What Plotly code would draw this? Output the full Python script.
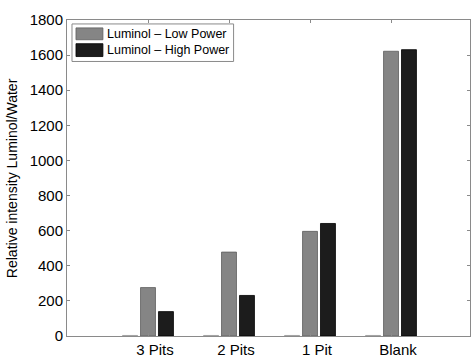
import plotly.graph_objects as go

categories = ["3 Pits", "2 Pits", "1 Pit", "Blank"]
water = [3, 3, 3, 3]
low_power = [276, 478, 596, 1622]
high_power = [139, 231, 641, 1631]
series_names = ["Water", "Luminol \u2013 Low Power", "Luminol \u2013 High Power"]
yticks = list(range(0, 1801, 200))

xpos = list(range(1, len(categories) + 1))

W, H = 471, 358
ML, MR, MT, MB = 67, 0, 20, 18
PW, PH = W - ML - MR, H - MT - MB

def px(x):
    return (x - ML) / PW

def py(y):
    return (H - MB - y) / PH

fig = go.Figure()
fig.add_trace(go.Bar(x=xpos, y=water, name=series_names[0], marker=dict(color="#c8c8c8", line=dict(color="#9a9a9a", width=0.8)), showlegend=False))
fig.add_trace(go.Bar(x=xpos, y=low_power, name=series_names[1], marker=dict(color="#858585", line=dict(color="#5e5e5e", width=0.8)), showlegend=False))
fig.add_trace(go.Bar(x=xpos, y=high_power, name=series_names[2], marker=dict(color="#1c1c1c", line=dict(color="#000000", width=0.8)), showlegend=False))

font = "Liberation Sans, Arial, Helvetica, sans-serif"

shapes = [
    dict(type="rect", xref="paper", yref="paper", x0=px(72), x1=px(234), y0=py(24), y1=py(62),
         line=dict(color="#8a8a8a", width=1), fillcolor="white", layer="above"),
    dict(type="rect", xref="paper", yref="paper", x0=px(76), x1=px(103), y0=py(28), y1=py(40),
         line=dict(color="#5e5e5e", width=0.8), fillcolor="#858585", layer="above"),
    dict(type="rect", xref="paper", yref="paper", x0=px(76), x1=px(103), y0=py(44), y1=py(57),
         line=dict(color="#000000", width=0.8), fillcolor="#1c1c1c", layer="above"),
]
annotations = [
    dict(xref="paper", yref="paper", x=px(105), y=py(34), text=series_names[1], showarrow=False,
         xanchor="left", yanchor="middle", font=dict(family=font, size=12.5, color="black")),
    dict(xref="paper", yref="paper", x=px(105), y=py(50.5), text=series_names[2], showarrow=False,
         xanchor="left", yanchor="middle", font=dict(family=font, size=12.5, color="black")),
    dict(xref="paper", yref="paper", x=px(12), y=0.5, text="Relative intensity Luminol/Water", showarrow=False,
         textangle=-90, xanchor="center", yanchor="middle", font=dict(family=font, size=14, color="black")),
]

fig.update_layout(
    width=W, height=H,
    margin=dict(l=ML, r=MR, t=MT, b=MB, pad=0),
    paper_bgcolor="white", plot_bgcolor="white",
    barmode="group", bargap=0.335, bargroupgap=0.167,
    font=dict(family=font, size=15, color="black"),
    shapes=shapes, annotations=annotations,
    showlegend=False,
)
fig.update_xaxes(
    range=[0, 4.975], tickvals=xpos, ticktext=categories,
    showline=True, linecolor="#8a8a8a", linewidth=1, mirror="ticks",
    ticks="inside", ticklen=3, tickcolor="#8a8a8a", showgrid=False, zeroline=False,
    tickfont=dict(family=font, size=15, color="black"), ticklabelshift=7,
)
fig.update_yaxes(
    range=[0, 1800], tickvals=yticks,
    showline=True, linecolor="#8a8a8a", linewidth=1, mirror="ticks",
    ticks="inside", ticklen=3, tickcolor="#8a8a8a", showgrid=False, zeroline=False,
    tickfont=dict(family=font, size=15, color="black"),
)

fig.write_html("out.html")
